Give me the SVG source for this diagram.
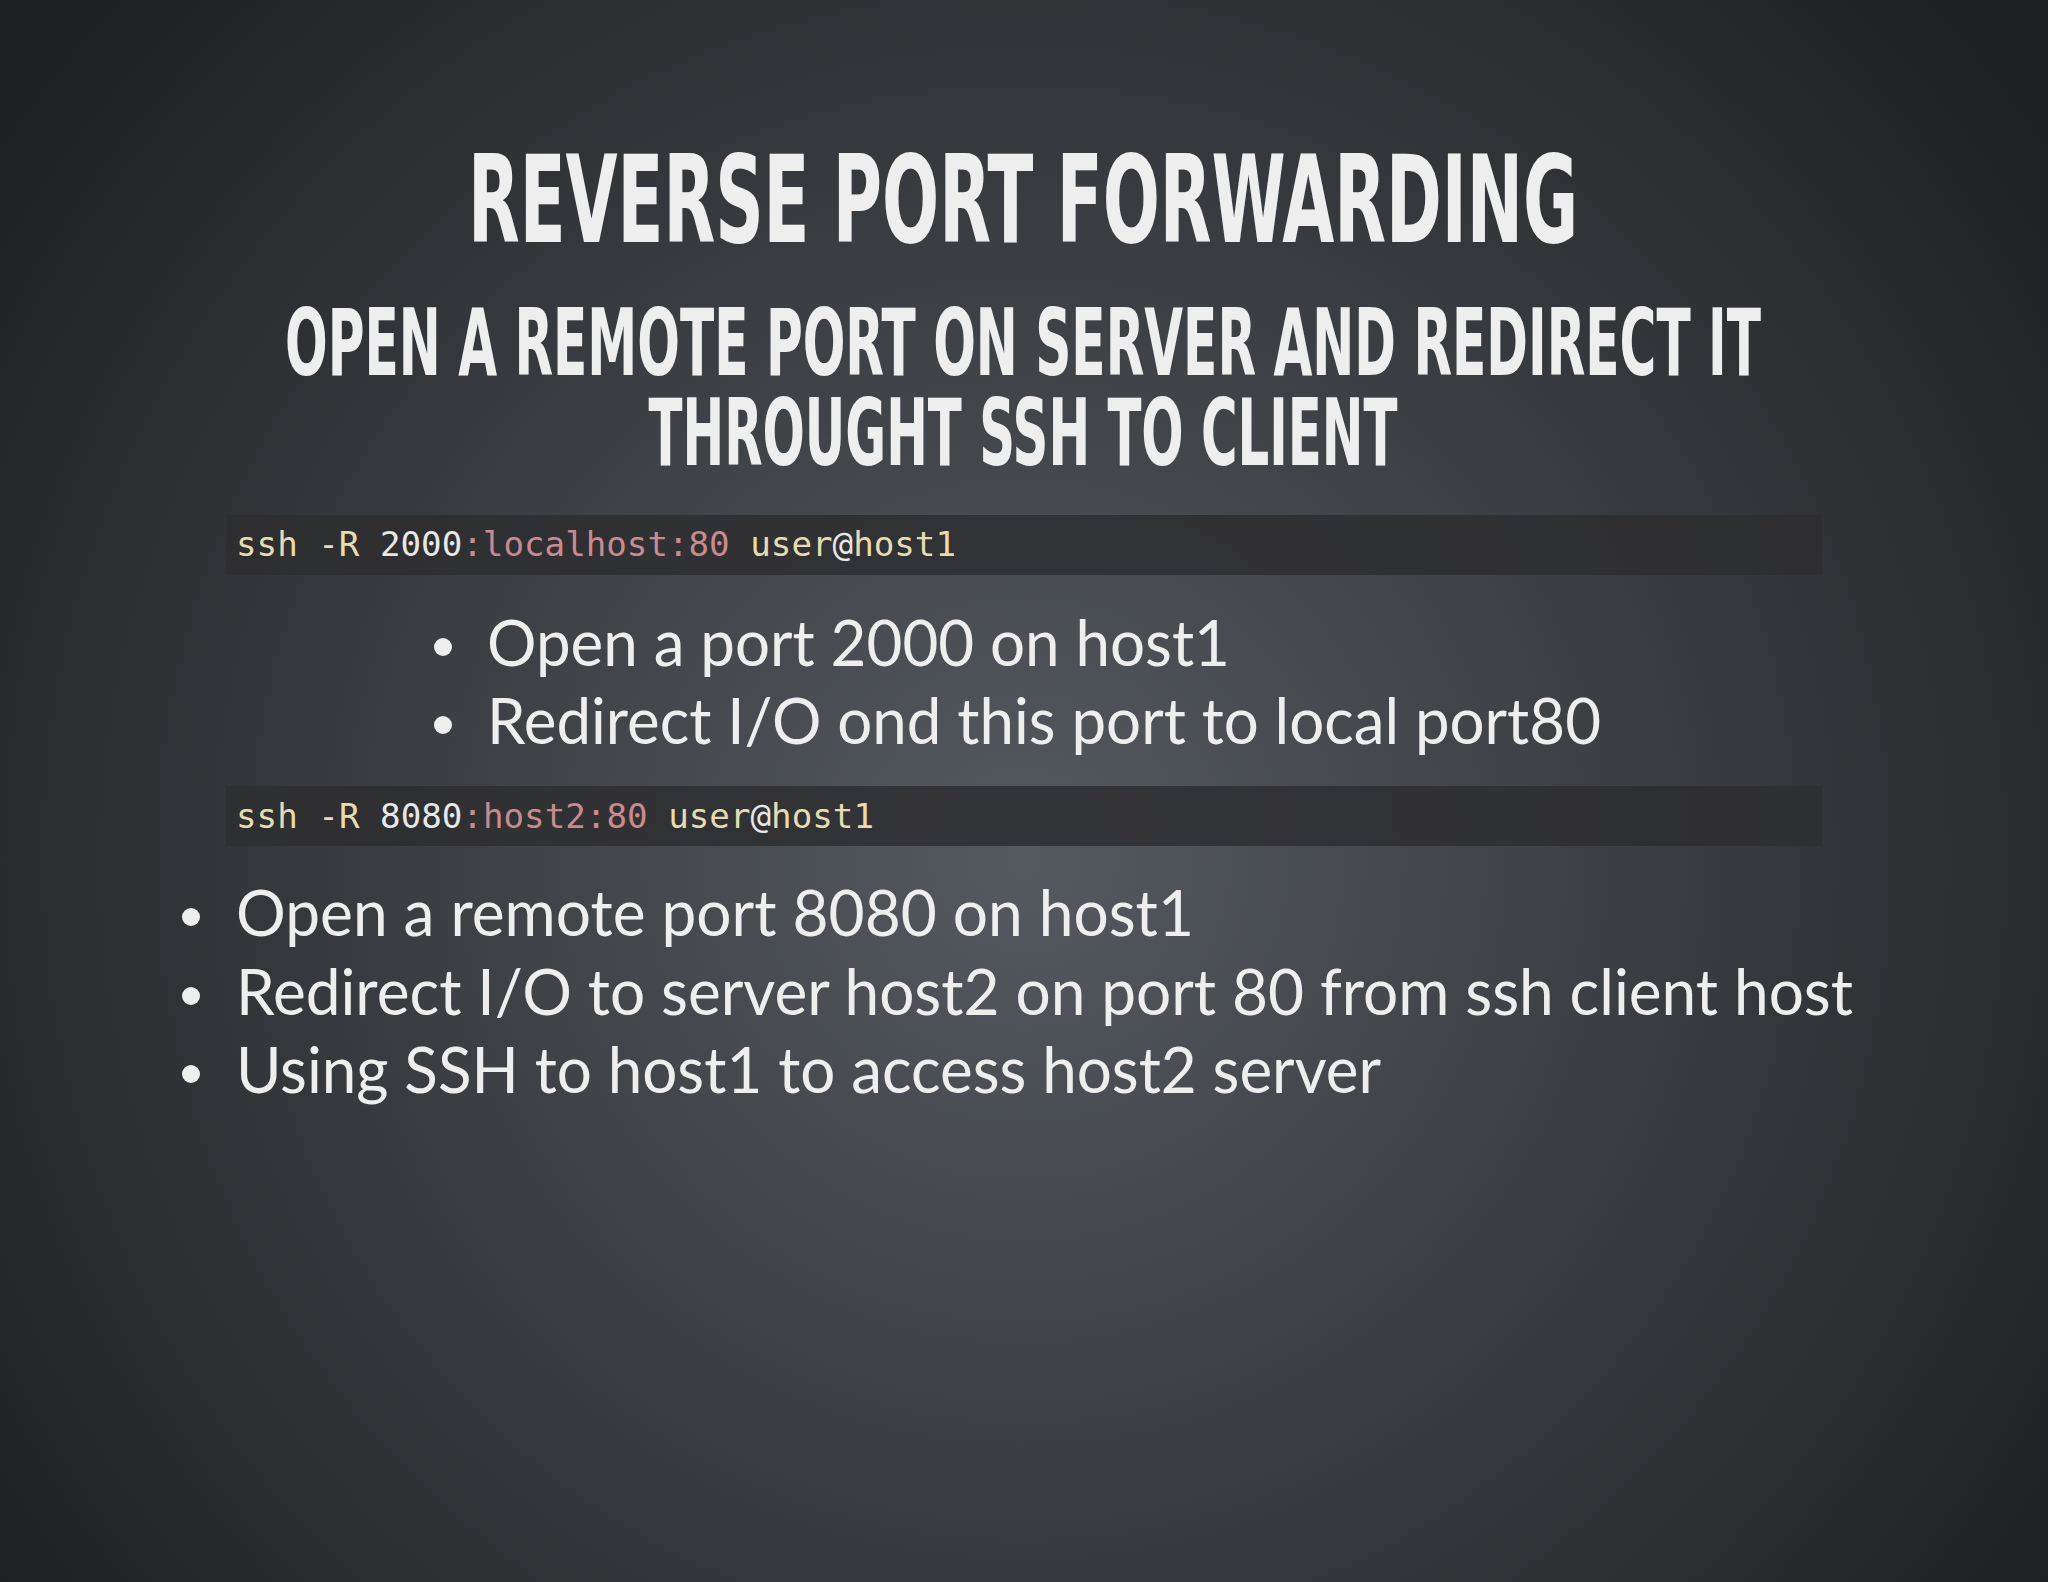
<svg xmlns="http://www.w3.org/2000/svg" width="2048" height="1582" viewBox="0 0 2048 1582">
<defs>
<radialGradient id="bg" cx="1024" cy="860" r="1250" gradientUnits="userSpaceOnUse">
<stop offset="0" stop-color="#555a60"/>
<stop offset="1" stop-color="#1f2023"/>
</radialGradient>
<style>
.h{font-family:"DejaVu Sans Condensed","Liberation Sans",sans-serif;font-weight:bold;fill:#eeeeee;text-anchor:middle}
.c{font-family:"DejaVu Sans Mono","Liberation Mono",monospace;font-size:34px;fill:#e6dcb0}
.w{fill:#e8e8e8}.p{fill:#c98a90}
.b{font-family:Lato,"Noto Sans",sans-serif;font-weight:400;font-size:64px;fill:#eeeeee}
.code{fill:#2e2e30;opacity:0.85}
</style>
</defs>
<rect width="2048" height="1582" fill="url(#bg)"/>
<g id="title">
<text class="h" x="1023" y="242" font-size="122" textLength="1110" lengthAdjust="spacingAndGlyphs">REVERSE PORT FORWARDING</text>
<text class="h" x="1023" y="375" font-size="92" textLength="1476" lengthAdjust="spacingAndGlyphs">OPEN A REMOTE PORT ON SERVER AND REDIRECT IT</text>
<text class="h" x="1023" y="465" font-size="92" textLength="749" lengthAdjust="spacingAndGlyphs">THROUGHT SSH TO CLIENT</text>
</g>
<g id="code1">
<rect class="code" x="226" y="515" width="1596" height="60"/>
<text class="c" x="236" y="556" textLength="720" lengthAdjust="spacingAndGlyphs">ssh -R <tspan class="w">2000</tspan><tspan class="p">:localhost:80</tspan> user<tspan class="w">@</tspan>host1</text>
</g>
<g id="bullets1">
<circle cx="443" cy="647" r="9" fill="#eeeeee"/>
<text class="b" x="487" y="666" textLength="743" lengthAdjust="spacingAndGlyphs">Open a port 2000 on host1</text>
<circle cx="443" cy="725" r="9" fill="#eeeeee"/>
<text class="b" x="487" y="744" textLength="1114" lengthAdjust="spacingAndGlyphs">Redirect I/O ond this port to local port80</text>
</g>
<g id="code2">
<rect class="code" x="226" y="786" width="1596" height="60"/>
<text class="c" x="236" y="828" textLength="638" lengthAdjust="spacingAndGlyphs">ssh -R <tspan class="w">8080</tspan><tspan class="p">:host2:80</tspan> user<tspan class="w">@</tspan>host1</text>
</g>
<g id="bullets2">
<circle cx="191" cy="917" r="9" fill="#eeeeee"/>
<text class="b" x="236" y="936" textLength="958" lengthAdjust="spacingAndGlyphs">Open a remote port 8080 on host1</text>
<circle cx="191" cy="996" r="9" fill="#eeeeee"/>
<text class="b" x="236" y="1015" textLength="1617" lengthAdjust="spacingAndGlyphs">Redirect I/O to server host2 on port 80 from ssh client host</text>
<circle cx="191" cy="1074" r="9" fill="#eeeeee"/>
<text class="b" x="236" y="1093" textLength="1145" lengthAdjust="spacingAndGlyphs">Using SSH to host1 to access host2 server</text>
</g>
</svg>
